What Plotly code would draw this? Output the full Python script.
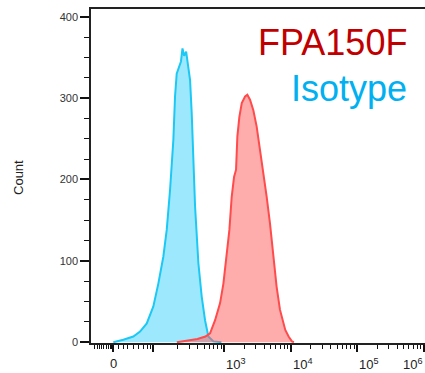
import math
import plotly.graph_objects as go

# x positions are in biexponential display units (decades: 3 = 10^3)
blue_x = [1.335, 1.486, 1.636, 1.737, 1.838, 1.937, 2.012, 2.087, 2.138, 2.188,
          2.238, 2.263, 2.288, 2.335, 2.352, 2.375, 2.40, 2.43, 2.46, 2.489, 2.514,
          2.539, 2.564, 2.614, 2.664, 2.714, 2.764, 2.84, 2.96]
blue_y = [0, 3, 7, 13, 23, 44, 72, 105, 138, 187,
          249, 302, 330, 340, 345, 361, 352, 357, 340, 322, 281,
          220, 167, 97, 56, 27, 7, 1, 0]

red_x = [2.29, 2.45, 2.60, 2.72, 2.789, 2.865, 2.94, 2.99, 3.04, 3.08, 3.115, 3.15,
         3.18, 3.20, 3.23, 3.266, 3.316, 3.35, 3.39, 3.44, 3.49, 3.54, 3.59, 3.64,
         3.69, 3.74, 3.79, 3.84, 3.92, 3.97, 4.02, 4.05]
red_y = [0, 2, 4, 7, 11, 27, 48, 72, 105, 138, 179, 203,
         212, 253, 277, 294, 302, 304, 298, 285, 265, 236, 212, 179,
         146, 105, 68, 40, 15, 7, 1, 0]

x_major = [1.331, 1.93, 3, 4, 5, 6]
x_minor = [1.06, 1.105, 1.135, 1.165, 1.195, 1.226, 1.256, 1.286, 1.31,
           1.406, 1.481, 1.556, 1.632, 1.707, 1.782, 1.842, 1.887]
for d in [2, 3, 4, 5]:
    for k in range(2, 10):
        x_minor.append(d + math.log10(k))
x_labels = [("0", 1.331, "center"), ("10<sup>3</sup>", 3, "left"),
            ("10<sup>4</sup>", 4, "left"), ("10<sup>5</sup>", 5, "left"),
            ("10<sup>6</sup>", 6.02, "right")]
y_major = [0, 100, 200, 300, 400]

fig = go.Figure()
fig.add_trace(go.Scatter(x=blue_x, y=blue_y, mode="lines", fill="tozeroy",
                         line=dict(color="#1CC8F4", width=2),
                         fillcolor="rgba(40,205,250,0.45)", name="Isotype"))
fig.add_trace(go.Scatter(x=red_x, y=red_y, mode="lines", fill="tozeroy",
                         line=dict(color="#FF4B4B", width=2),
                         fillcolor="rgba(255,90,90,0.5)", name="FPA150F"))

font = "Liberation Sans, Arial, sans-serif"
fig.update_layout(
    width=425, height=373,
    margin=dict(l=91, r=0, t=9, b=30),
    paper_bgcolor="white", plot_bgcolor="white",
    showlegend=False,
    font=dict(family=font, color="#222"),
    xaxis=dict(range=[1.0, 6.02], showgrid=False, zeroline=False,
               showline=True, linecolor="#222", linewidth=1.5, mirror=True,
               tickmode="array", tickvals=x_major, showticklabels=False,
               ticks="outside", ticklen=7, tickwidth=2, tickcolor="#111",
               minor=dict(tickmode="array", tickvals=x_minor, ticks="outside",
                          ticklen=4, tickwidth=1, tickcolor="#111")),
    yaxis=dict(range=[-1, 409.5], showgrid=False, zeroline=False,
               showline=True, linecolor="#222", linewidth=1.5, mirror=False,
               tickmode="array", tickvals=y_major,
               ticks="outside", ticklen=9, tickwidth=2, tickcolor="#111",
               tickfont=dict(size=11, color="#333"),
               minor=dict(dtick=25, ticks="outside", ticklen=5, tickwidth=1,
                          tickcolor="#111")),
)

for txt, xv, anc in x_labels:
    fig.add_annotation(text=txt, x=xv, xref="x", y=0, yref="paper",
                       xanchor=anc, yanchor="top", yshift=-11, showarrow=False,
                       font=dict(size=13, color="#222", family=font))

fig.add_annotation(text="Count", textangle=-90, x=-0.2186, xref="paper",
                   y=0.497, yref="paper", xanchor="center", yanchor="middle",
                   showarrow=False, font=dict(size=13, color="#222", family=font))
fig.add_annotation(text="FPA150F", x=0.952, xref="paper", y=0.901, yref="paper",
                   xanchor="right", yanchor="middle", showarrow=False,
                   font=dict(size=36, color="#C00000", family=font))
fig.add_annotation(text="Isotype", x=0.952, xref="paper", y=0.763, yref="paper",
                   xanchor="right", yanchor="middle", showarrow=False,
                   font=dict(size=36, color="#00B0F0", family=font))

fig.write_html("out.html", config={"displayModeBar": False},
               post_script="document.body.style.margin='0';document.body.style.padding='0';")
